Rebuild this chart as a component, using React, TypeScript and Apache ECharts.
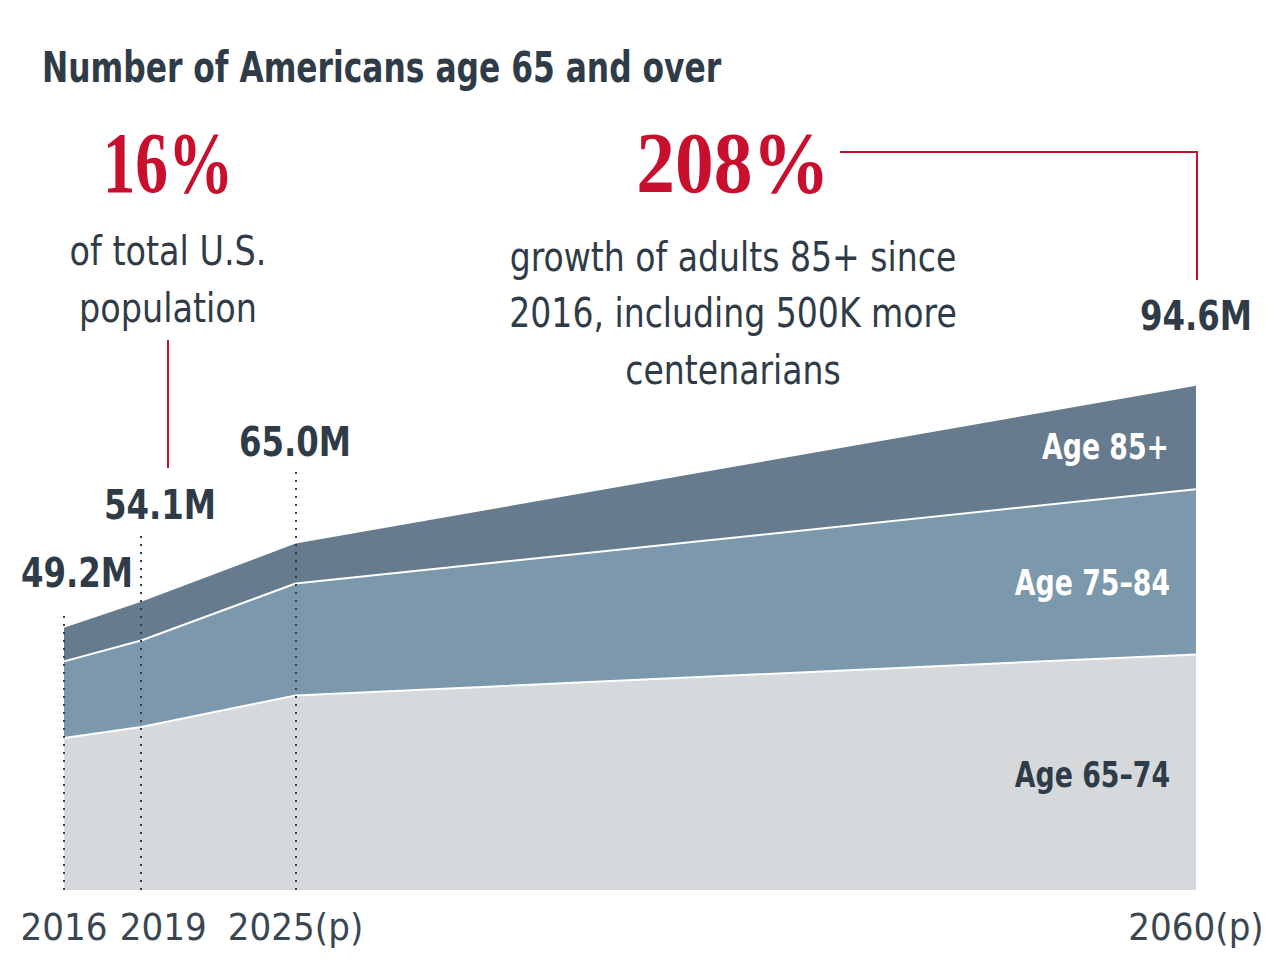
import React, { useEffect, useRef } from "react";
import * as echarts from "echarts";

const years = [2016, 2019, 2025, 2060];
const tickLabels = ["2016", "2019", "2025(p)", "2060(p)"];
const age6574 = [28.5, 30.6, 36.5, 44.2];
const age7584 = [14.4, 16.2, 21.0, 31.0];
const age85 = [6.3, 7.3, 7.5, 19.4];
const seriesNames = ["Age 65–74", "Age 75–84", "Age 85+"];
const guideTops = [52, 67, 79.5, 100.5];

const DARK = "#2f3c48";
const RED = "#c8102e";
const SANS = "'DejaVu Sans Condensed', 'DejaVu Sans', sans-serif";
const SERIF = "'Liberation Serif', 'DejaVu Serif', serif";

export default function App() {
  const ref = useRef<HTMLDivElement>(null);
  useEffect(() => {
    if (!ref.current) return;
    const chart = echarts.init(ref.current, null, { renderer: "svg" });
    // cumulative layers (drawn back to front, each filled down to zero)
    const cum1 = years.map((_, i) => age6574[i]);
    const cum2 = years.map((_, i) => age6574[i] + age7584[i]);
    const cum3 = years.map((_, i) => age6574[i] + age7584[i] + age85[i]);
    const mk = (arr: number[]) => years.map((y, i) => [y, +arr[i].toFixed(2)]);
    const txt = (text: string, x: number, y: number, size: number, opts: any = {}) => ({
      type: "text",
      x,
      y,
      scaleX: opts.scaleX ?? 1,
      z: 100,
      style: {
        text,
        fontSize: size,
        fontFamily: opts.family ?? SANS,
        fontWeight: opts.weight ?? "normal",
        fill: opts.fill ?? DARK,
        align: opts.align ?? "center",
        verticalAlign: "middle",
      },
    });
    const valueLabelPos = [
      [77, 573],
      [160, 505],
      [295, 442],
      [1196, 316],
    ];
    const richTick = { fontSize: 38, fontFamily: SANS, color: "#3a4753" };
    const labelFor = (v: number) => {
      const i = years.indexOf(v);
      return i < 0 ? "" : tickLabels[i];
    };
    const baseAxis = {
      type: "value",
      min: 2016,
      max: 2060,
      position: "bottom",
      axisLine: { show: false },
      axisTick: { show: false },
      splitLine: { show: false },
    };
    chart.setOption({
      animation: false,
      grid: { left: 64, right: 84, top: 357, bottom: 70 },
      xAxis: [
        {
          ...baseAxis,
          axisLabel: {
            customValues: years.filter((_, i) => i !== 1),
            showMinLabel: true,
            showMaxLabel: true,
            formatter: (v: number) => `{n|${labelFor(v)}}`,
            rich: { n: { ...richTick } },
            margin: 18,
          },
        },
        {
          ...baseAxis,
          axisLabel: {
            customValues: [years[1]],
            showMinLabel: true,
            showMaxLabel: true,
            formatter: (v: number) => `{sp| }{n|${labelFor(v)}}`,
            rich: { n: { ...richTick }, sp: { ...richTick, width: 44 } },
            margin: 18,
          },
        },
      ],
      yAxis: { type: "value", min: 0, max: 100, show: false },
      series: [
        {
          name: seriesNames[2],
          type: "line",
          data: mk(cum3),
          symbol: "none",
          lineStyle: { width: 0 },
          areaStyle: { color: "#667b8e", opacity: 1 },
          z: 2,
        },
        {
          name: seriesNames[1],
          type: "line",
          data: mk(cum2),
          symbol: "none",
          lineStyle: { color: "#ffffff", width: 2 },
          areaStyle: { color: "#7b98ad", opacity: 1 },
          z: 3,
        },
        {
          name: seriesNames[0],
          type: "line",
          data: mk(cum1),
          symbol: "none",
          lineStyle: { color: "#ffffff", width: 2 },
          areaStyle: { color: "#d5d9db", opacity: 1 },
          z: 4,
        },
        {
          type: "line",
          data: [],
          symbol: "none",
          z: 10,
          markLine: {
            silent: true,
            symbol: ["none", "none"],
            label: { show: false },
            lineStyle: { color: "#333e48", width: 2, type: [2, 6] },
            z: 10,
            data: years.map((y, i) => [{ coord: [y, 0] }, { coord: [y, guideTops[i]] }]),
          },
        },
      ],
      graphic: [
        txt("Number of Americans age 65 and over", 42, 67, 42, { align: "left", weight: "bold", scaleX: 0.83 }),
        txt("16%", 168, 163, 86, { family: SERIF, weight: "bold", fill: RED, scaleX: 0.76 }),
        txt("of total U.S.", 168, 251, 40, { scaleX: 0.93 }),
        txt("population", 168, 308, 40, { scaleX: 0.93 }),
        {
          type: "line",
          shape: { x1: 168, y1: 340, x2: 168, y2: 468 },
          style: { stroke: RED, lineWidth: 2 },
        },
        txt("208%", 733, 163, 86, { family: SERIF, weight: "bold", fill: RED, scaleX: 0.9 }),
        {
          type: "polyline",
          shape: { points: [[840, 152], [1197, 152], [1197, 280]] },
          style: { stroke: RED, lineWidth: 2, fill: "none" },
        },
        txt("growth of adults 85+ since", 733, 257, 40, { scaleX: 0.92 }),
        txt("2016, including 500K more", 733, 313, 40, { scaleX: 0.92 }),
        txt("centenarians", 733, 370, 40, { scaleX: 0.92 }),
        ...cum3.map((t, i) =>
          txt(`${t.toFixed(1)}M`, valueLabelPos[i][0], valueLabelPos[i][1], 40, { weight: "bold", scaleX: 0.9 })
        ),
        txt(seriesNames[2], 1169, 447, 35, { align: "right", weight: "bold", fill: "#ffffff", scaleX: 0.85 }),
        txt(seriesNames[1], 1170, 583, 35, { align: "right", weight: "bold", fill: "#ffffff", scaleX: 0.85 }),
        txt(seriesNames[0], 1170, 775, 35, { align: "right", weight: "bold", scaleX: 0.85 }),
      ],
    });
    return () => chart.dispose();
  }, []);
  return (
    <div
      ref={ref}
      style={{ position: "fixed", left: 0, top: 0, width: 1280, height: 960, background: "#ffffff" }}
    />
  );
}
